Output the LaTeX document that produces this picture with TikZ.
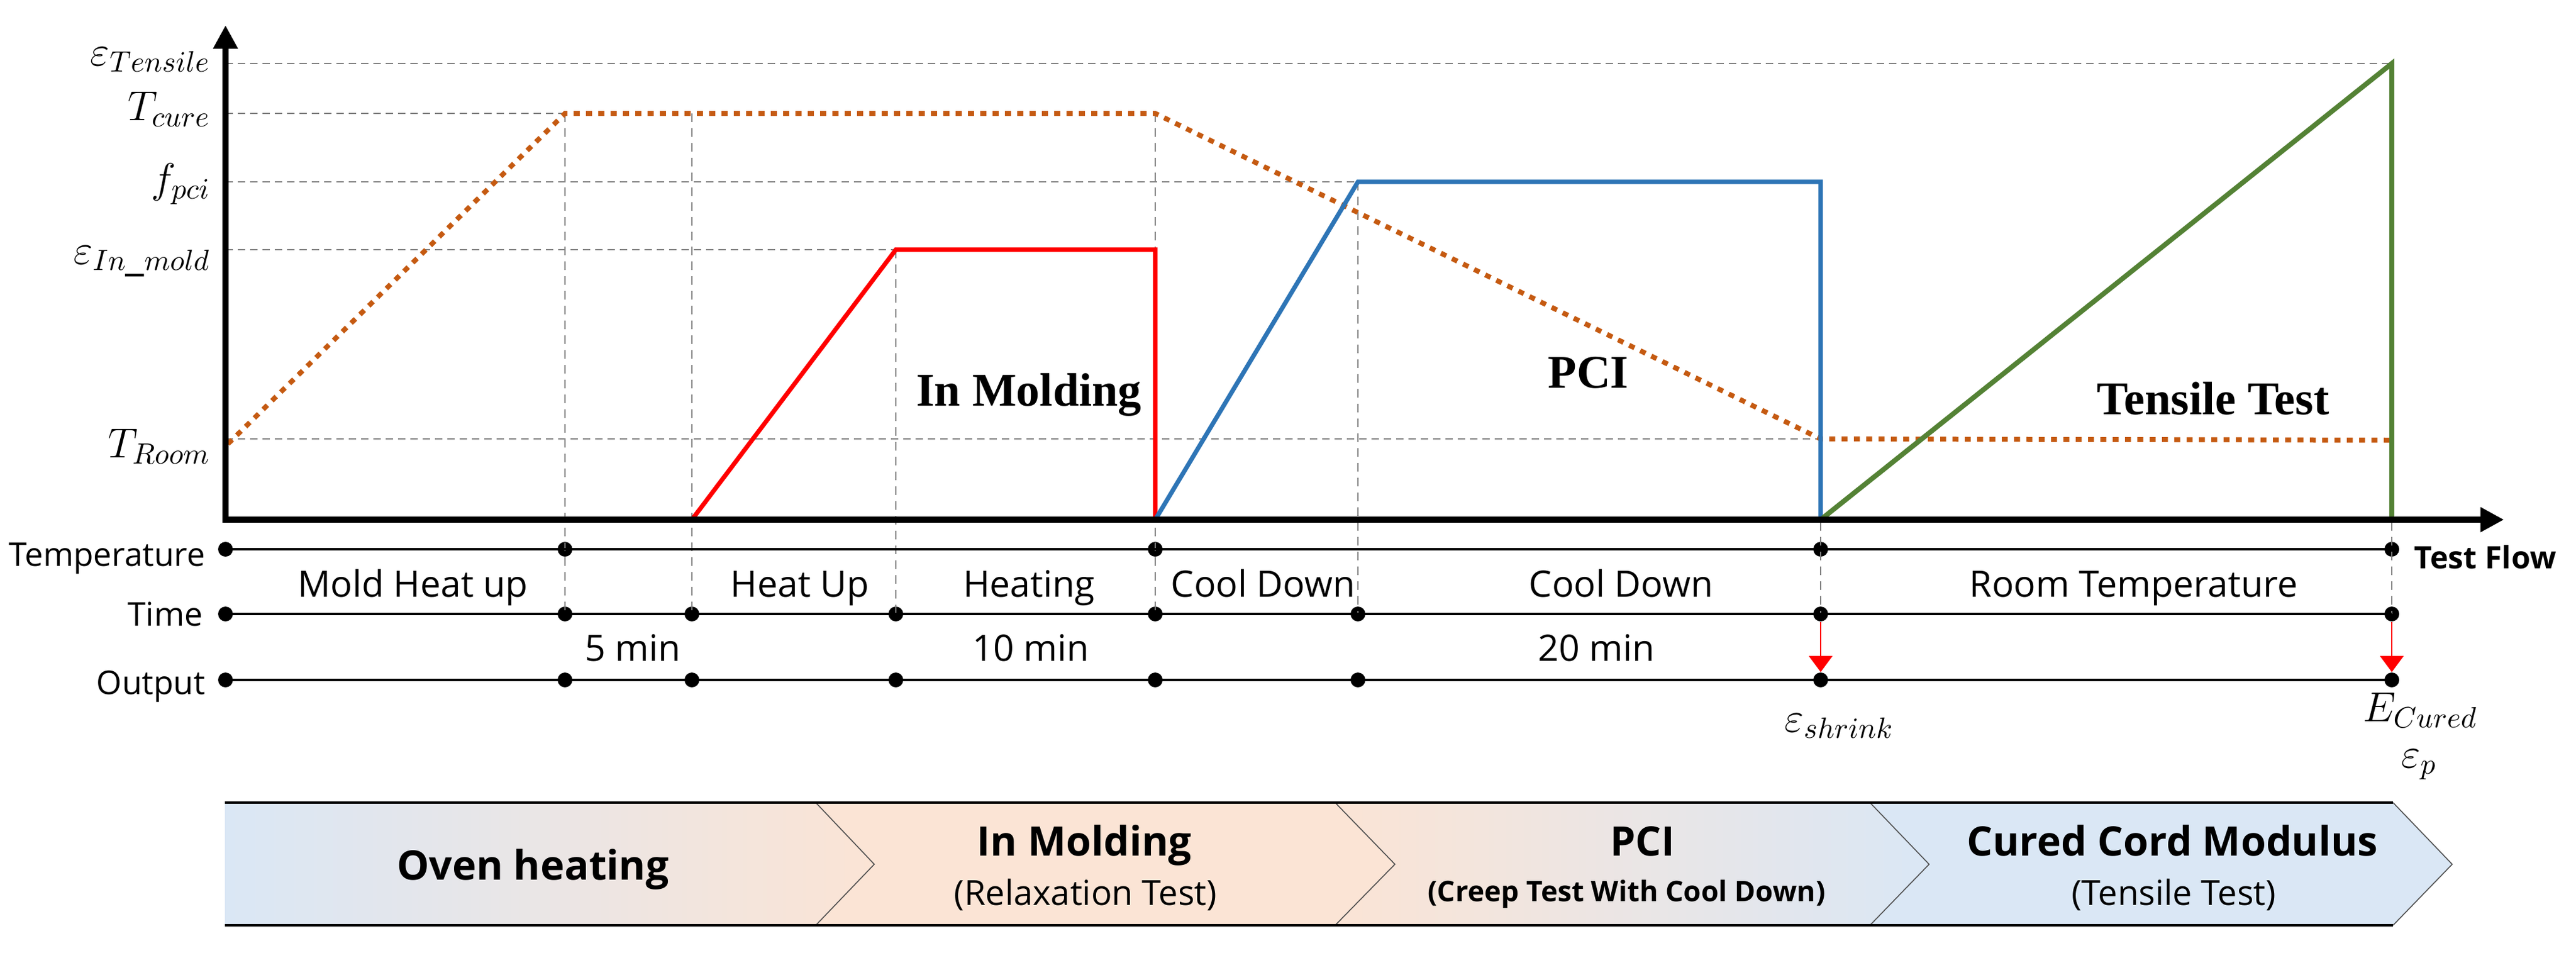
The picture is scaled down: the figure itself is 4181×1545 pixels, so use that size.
\RequirePackage{fix-cm}
\documentclass[tikz,border=0pt]{standalone}
\usepackage{fontspec}
\setmainfont{Open Sans}
\newfontfamily\serifbf{Liberation Serif}
\usetikzlibrary{arrows.meta}
\definecolor{tcol}{HTML}{C55A11}
\definecolor{rcol}{HTML}{FF0000}
\definecolor{bcol}{HTML}{2E75B6}
\definecolor{gcol}{HTML}{548235}
\definecolor{gridc}{HTML}{7F7F7F}
\definecolor{lblue}{HTML}{DAE7F5}
\definecolor{lpeach}{HTML}{FBE4D5}
\definecolor{chev}{HTML}{505050}
\begin{document}
\begin{tikzpicture}[x=0.25pt,y=-0.25pt,
  hgrid/.style={draw=gridc, line width=0.6pt, dash pattern=on 3pt off 2pt},
  vgrid/.style={draw=gridc, line width=0.4pt, dash pattern=on 3.5pt off 2.5pt},
  templine/.style={draw=tcol, line width=2pt, dash pattern=on 2.4pt off 2.6pt},
  redline/.style={draw=rcol, line width=1.8pt},
  blueline/.style={draw=bcol, line width=1.8pt},
  greenline/.style={draw=gcol, line width=2pt},
  axisline/.style={draw=black, line width=2.5pt, -{Triangle[length=9.5pt,width=9.5pt]}},
  rowline/.style={draw=black, line width=1pt},
  dot/.style={circle, fill=black, inner sep=0pt, minimum size=6pt},
  redarr/.style={draw=rcol, line width=0.5pt, -{Triangle[length=6.5pt,width=9.5pt]}},
  rowlbl/.style={font=\fontsize{13.25pt}{15pt}\selectfont, inner sep=0pt, anchor=base east},
  phase/.style={font=\fontsize{14.75pt}{17pt}\selectfont, inner sep=0pt, anchor=base},
  mathlbl/.style={font=\fontsize{17pt}{19pt}\selectfont, inner sep=0pt},
  bigserif/.style={font=\serifbf\bfseries\fontsize{19pt}{22pt}\selectfont, inner sep=0pt, anchor=base},
  flowlbl/.style={font=\bfseries\fontsize{12.5pt}{15pt}\selectfont, inner sep=0pt, anchor=base west},
  bantitle/.style={font=\bfseries\fontsize{16.5pt}{19pt}\selectfont, inner sep=0pt, anchor=base},
  bansub/.style={font=\fontsize{14pt}{16pt}\selectfont, inner sep=0pt, anchor=base},
  bansubb/.style={font=\bfseries\fontsize{11.5pt}{14pt}\selectfont, inner sep=0pt, anchor=base},
  chevline/.style={draw=chev, line width=0.4pt},
  banborder/.style={draw=black, line width=1pt}
]
\useasboundingbox (0,0) rectangle (4181,1545);

% ---------- key coordinates ----------
\coordinate (ytop) at (366,41);
\coordinate (ybot) at (366,848);
\coordinate (xbeg) at (361,843);
\coordinate (xend) at (4064,843);

\coordinate (yT) at (366,103);
\coordinate (yC) at (366,184);
\coordinate (yF) at (366,295);
\coordinate (yM) at (366,405);
\coordinate (yR) at (366,712);

\coordinate (tr0) at (370,720);
\coordinate (tr1) at (917,184);
\coordinate (tr2) at (1875,184);
\coordinate (tr3) at (2955,712);
\coordinate (tr4) at (3882,714);
\coordinate (c2) at (1123,184);

\coordinate (r0) at (1123,843);
\coordinate (r1) at (1454,405);
\coordinate (r2) at (1875,405);
\coordinate (r3) at (1875,843);

\coordinate (b0) at (1875,843);
\coordinate (b1) at (2204,295);
\coordinate (b2) at (2955,295);
\coordinate (b3) at (2955,843);

\coordinate (g0) at (2955,843);
\coordinate (g1) at (3882,103);
\coordinate (g2) at (3882,843);

% ---------- row dots ----------
\foreach \n/\x in {0/366,1/917,2/1875,3/2955,4/3882}
  \node[dot] (t\n) at (\x,891) {};
\foreach \n/\x in {0/366,1/917,2/1123,3/1454,4/1875,5/2204,6/2955,7/3882}{
  \node[dot] (m\n) at (\x,996) {};
  \node[dot] (o\n) at (\x,1103) {};
}

% ---------- grid ----------
\draw[hgrid] (yT) -- (g1);
\draw[hgrid] (yC) -- (tr1);
\draw[hgrid] (yF) -- (b1);
\draw[hgrid] (yM) -- (r1);
\draw[hgrid] (yR) -- (tr3);

\draw[vgrid] (tr1) -- (m1.center);
\draw[vgrid] (c2) -- (m2.center);
\draw[vgrid] (r1) -- (m3.center);
\draw[vgrid] (tr2) -- (m4.center);
\draw[vgrid] (b1) -- (m5.center);
\draw[vgrid] (b2) -- (m6.center);
\draw[vgrid] (g1) -- (m7.center);

% ---------- curves ----------
\draw[templine] (tr0) -- (tr1) -- (tr2) -- (tr3) -- (tr4);
\draw[redline] (r0) -- (r1) -- (r2) -- (r3);
\draw[blueline] (b0) -- (b1) -- (b2) -- (b3);
\draw[greenline] (g0) -- (g1) -- (g2);

% ---------- axes ----------
\draw[axisline] (ybot) -- (ytop);
\draw[axisline] (xbeg) -- (xend);

% ---------- axis labels ----------
\node[mathlbl, anchor=base east] (lT) at (342,106) {$\varepsilon_{Tensile}$};
\node[mathlbl, anchor=base east] (lC) at (342,195) {$T_{cure}$};
\node[mathlbl, anchor=base east] (lF) at (342,312) {$f_{pci}$};
\node[mathlbl, anchor=base east] (lM) at (342,428) {$\varepsilon_{In\_mold}$};
\node[mathlbl, anchor=base east] (lR) at (342,742) {$T_{Room}$};

% ---------- phase labels in chart ----------
\node[bigserif] (pIM) at (1670,658) {In Molding};
\node[bigserif] (pPCI) at (2578,629) {PCI};
\node[bigserif] (pTT) at (3592,672) {Tensile Test};

% ---------- rows ----------
\draw[rowline] (t0.center) -- (t4.center);
\draw[rowline] (m0.center) -- (m7.center);
\draw[rowline] (o0.center) -- (o7.center);

\node[rowlbl] (rTemp) at (334,918) {Temperature};
\node[rowlbl] (rTime) at (330,1015) {Time};
\node[rowlbl] (rOut) at (334,1126) {Output};
\node[flowlbl] (flow) at (3918,922) {Test Flow};

\node[phase] (s1) at (670,968) {Mold Heat up};
\node[phase] (s2) at (1298,968) {Heat Up};
\node[phase] (s3) at (1670,968) {Heating};
\node[phase] (s4) at (2050,968) {Cool Down};
\node[phase] (s5) at (2631,968) {Cool Down};
\node[phase] (s6) at (3463,968) {Room Temperature};

\node[phase] (d1) at (1027,1072) {5 min};
\node[phase] (d2) at (1673,1072) {10 min};
\node[phase] (d3) at (2591,1072) {20 min};

\draw[redarr] (m6) -- (o6);
\draw[redarr] (m7) -- (o7);

\node[mathlbl, anchor=base] (oS) at (2985,1187) {$\varepsilon_{shrink}$};
\node[mathlbl, anchor=base] (oE) at (3928,1170) {$E_{Cured}$};
\node[mathlbl, anchor=base] (oP) at (3926,1245) {$\varepsilon_{p}$};

% ---------- banner ----------
\fill[left color=lblue, right color=lpeach]
  (365,1302) -- (1324,1302) -- (1419,1402) -- (1324,1501) -- (365,1501) -- cycle;
\fill[lpeach]
  (1324,1302) -- (2167,1302) -- (2264,1402) -- (2167,1501) -- (1324,1501) -- (1419,1402) -- cycle;
\fill[left color=lpeach, right color=lblue]
  (2167,1302) -- (3035,1302) -- (3131,1402) -- (3035,1501) -- (2167,1501) -- (2264,1402) -- cycle;
\fill[lblue]
  (3035,1302) -- (3884,1302) -- (3980,1402) -- (3884,1501) -- (3035,1501) -- (3131,1402) -- cycle;

\draw[chevline] (1324,1302) -- (1419,1402) -- (1324,1501);
\draw[chevline] (2167,1302) -- (2264,1402) -- (2167,1501);
\draw[chevline] (3035,1302) -- (3131,1402) -- (3035,1501);
\draw[chevline] (3884,1302) -- (3980,1402) -- (3884,1501);
\draw[banborder] (365,1302) -- (3884,1302);
\draw[banborder] (365,1501) -- (3884,1501);

\node[bantitle] (bOven) at (865,1427) {Oven heating};
\node[bantitle] (bIM) at (1760,1388) {In Molding};
\node[bansub] (bIMs) at (1762,1468) {(Relaxation Test)};
\node[bantitle] (bPCI) at (2666,1388) {PCI};
\node[bansubb] (bPCIs) at (2640,1462) {(Creep Test With Cool Down)};
\node[bantitle] (bCCM) at (3526,1388) {Cured Cord Modulus};
\node[bansub] (bCCMs) at (3528,1468) {(Tensile Test)};
\end{tikzpicture}
\end{document}
